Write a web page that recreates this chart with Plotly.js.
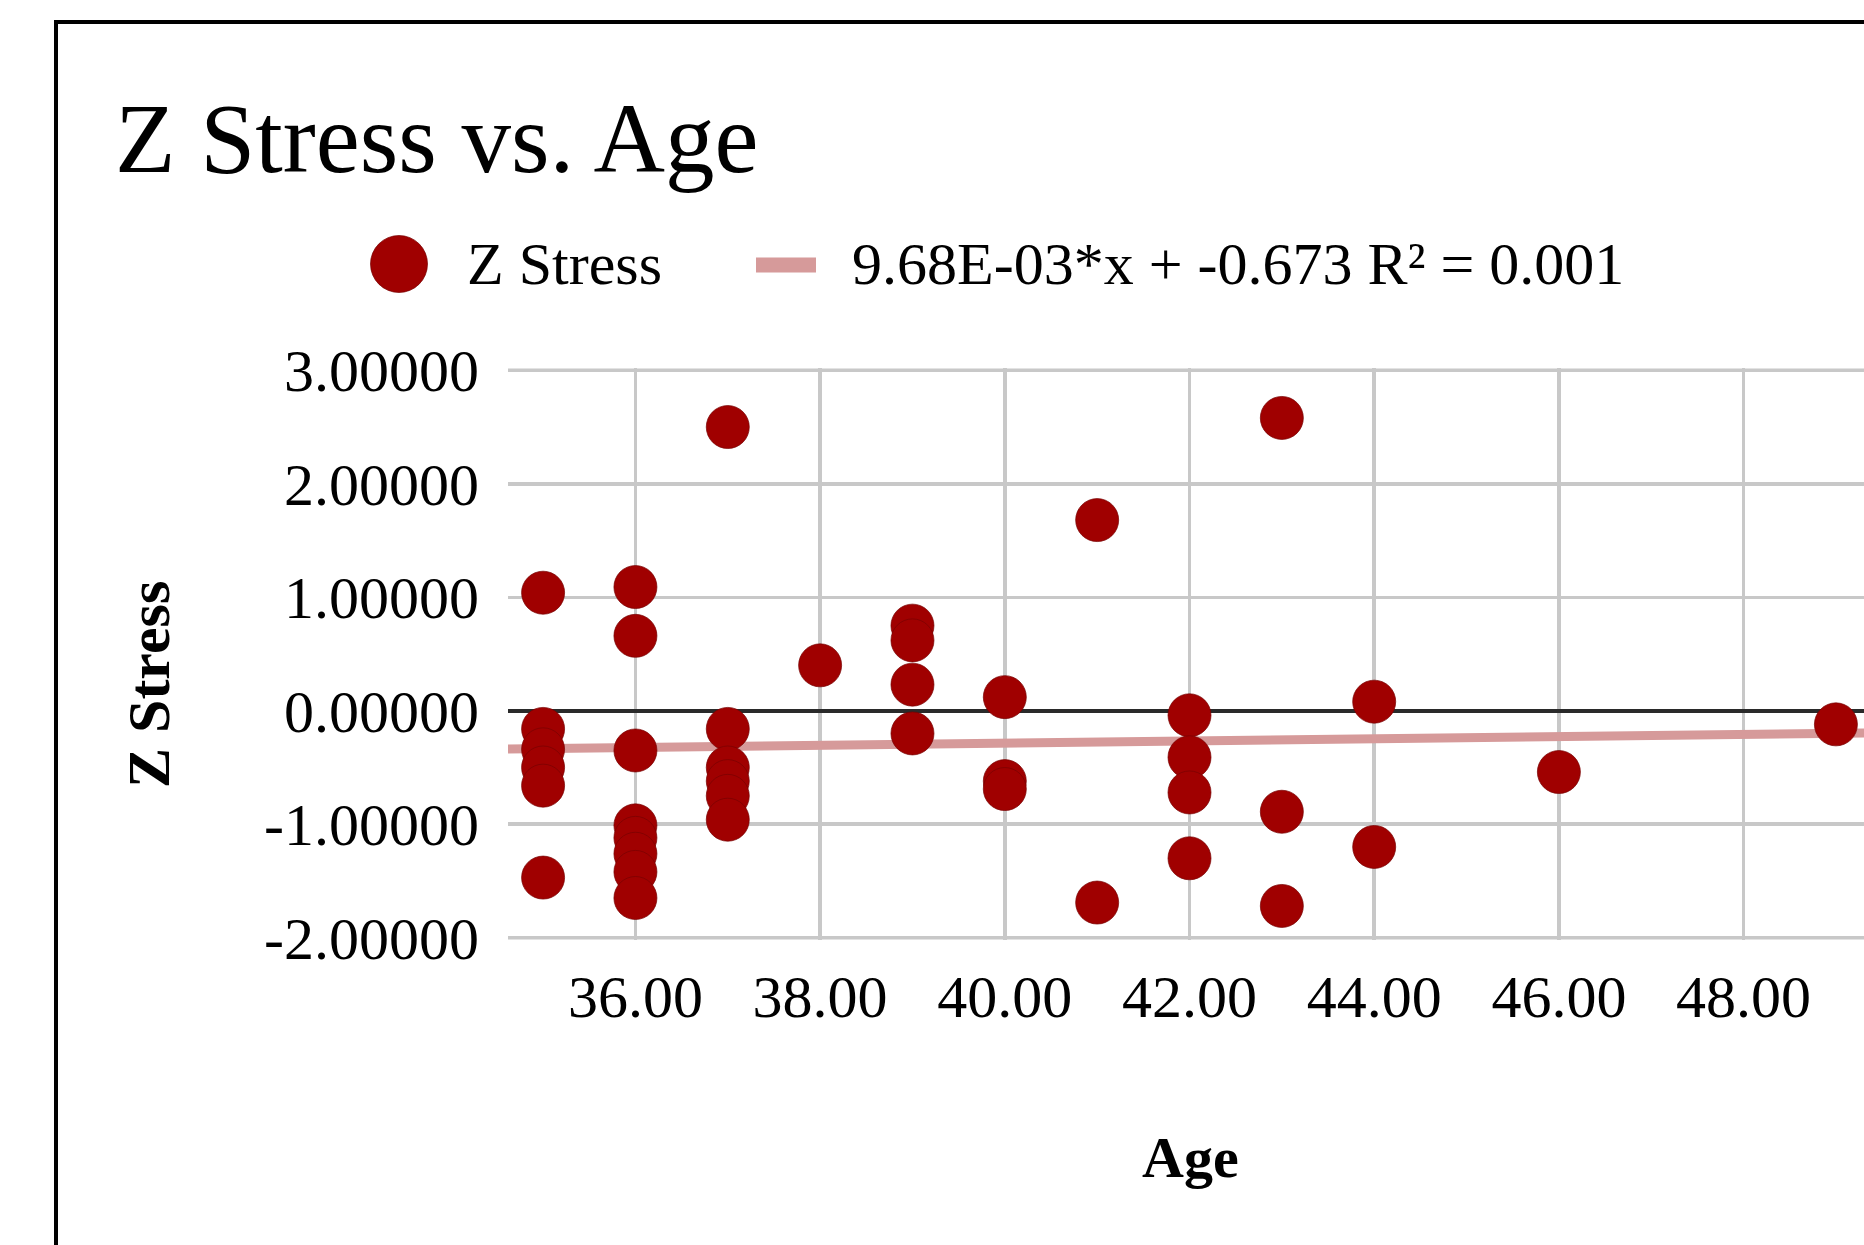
<!DOCTYPE html>
<html>
<head>
<meta charset="utf-8">
<script src="https://cdn.plot.ly/plotly-3.0.1.min.js"></script>
<style>
  html, body { margin: 0; padding: 0; overflow: hidden; background: #ffffff; }
  #chart { width: 1880px; height: 1245px; }
</style>
</head>
<body>
<div id="chart"></div>
<script>
// ---- Data ----
const ages = [
  35, 35, 35, 35, 35, 35,
  36, 36, 36, 36, 36, 36, 36, 36,
  37, 37, 37, 37, 37, 37,
  38,
  39, 39, 39, 39,
  40, 40, 40,
  41, 41,
  42, 42, 42, 42,
  43, 43, 43,
  44, 44,
  46,
  49
];
const zStress = [
  1.04, -0.16, -0.34, -0.50, -0.66, -1.47,
  1.09, 0.66, -0.35, -1.01, -1.12, -1.26, -1.42, -1.65,
  2.50, -0.16, -0.50, -0.62, -0.75, -0.96,
  0.40,
  0.75, 0.62, 0.23, -0.20,
  0.12, -0.62, -0.69,
  1.68, -1.69,
  -0.04, -0.41, -0.72, -1.30,
  2.58, -0.89, -1.72,
  0.08, -1.20,
  -0.54,
  -0.12
];
const seriesName = 'Z Stress';
const trendSlope = 0.00968;
const trendIntercept = -0.673;
const trendLabel = '9.68E-03*x + -0.673 R\u00B2 = 0.001';
const chartTitle = 'Z Stress vs. Age';
const xAxisTitle = 'Age';
const yAxisTitle = 'Z Stress';
const xTickVals = [36, 38, 40, 42, 44, 46, 48];
const xTickText = ['36.00', '38.00', '40.00', '42.00', '44.00', '46.00', '48.00'];
const yTickVals = [-2, -1, 0, 1, 2, 3];
const yTickText = ['-2.00000', '-1.00000', '0.00000', '1.00000', '2.00000', '3.00000'];
const xAxisRange = [34.62, 49.38];
const yAxisRange = [-2.02, 3.02];

// ---- Layout geometry (pixels) ----
const W = 1880, H = 1245;
const L = 508, R = W - 1871, T = 368, B = H - 940;
const plotW = W - L - R, plotH = H - T - B;
const px = v => (v - L) / plotW;          // page x pixel -> paper x
const py = v => (H - B - v) / plotH;      // page y pixel -> paper y

const FONT = 'Liberation Serif, "Times New Roman", Times, serif';
const markerColor = '#a00000';
const trendColor = '#d69a9a';
const gridColor = '#c8c8c8';
const gridWidth = 3.5;

// trendline across the full axis range, from the stated fit
const trendX = xAxisRange.slice();
const trendY = trendX.map(x => trendSlope * x + trendIntercept);

const traces = [
  {
    type: 'scatter', mode: 'lines', name: trendLabel,
    x: trendX, y: trendY,
    line: { color: trendColor, width: 9 },
    hoverinfo: 'skip'
  },
  {
    type: 'scatter', mode: 'markers', name: seriesName,
    x: ages, y: zStress,
    marker: { color: markerColor, size: 43, line: { color: 'rgba(120,0,0,0.7)', width: 1 } }
  }
];

// gridlines at the two outer y ticks (Plotly drops gridlines at the plot edges)
const edgeGridShapes = [yTickVals[0], yTickVals[yTickVals.length - 1]].map(v => ({
  type: 'line', xref: 'paper', yref: 'y', layer: 'below',
  x0: 0, x1: 1, y0: v, y1: v,
  line: { color: gridColor, width: gridWidth }
}));

const layout = {
  width: W, height: H, autosize: false,
  margin: { l: L, r: R, t: T, b: B, pad: 0 },
  paper_bgcolor: '#ffffff', plot_bgcolor: '#ffffff',
  showlegend: false,
  font: { family: FONT, color: '#000000' },
  title: {
    text: chartTitle,
    font: { family: FONT, size: 99, color: '#000000' },
    xref: 'container', yref: 'container',
    x: 115 / W, xanchor: 'left',
    y: 1 - 137 / H, yanchor: 'middle'
  },
  xaxis: {
    range: xAxisRange, autorange: false,
    tickmode: 'array', tickvals: xTickVals, ticktext: xTickText,
    tickfont: { family: FONT, size: 60, color: '#000000' },
    ticks: '', ticklabelstandoff: 16,
    showgrid: true, gridcolor: gridColor, gridwidth: gridWidth,
    zeroline: false, showline: false
  },
  yaxis: {
    range: yAxisRange, autorange: false,
    tickmode: 'array', tickvals: yTickVals, ticktext: yTickText,
    tickfont: { family: FONT, size: 60, color: '#000000' },
    ticks: '', ticklabelstandoff: 28,
    showgrid: true, gridcolor: gridColor, gridwidth: gridWidth,
    zeroline: true, zerolinecolor: '#2a2a2a', zerolinewidth: 3.5,
    showline: false
  },
  shapes: edgeGridShapes.concat([
    // outer frame (extends past the right and bottom of the picture)
    { type: 'rect', xref: 'paper', yref: 'paper', layer: 'below',
      x0: px(56), x1: px(2100), y0: py(1500), y1: py(22),
      line: { color: '#000000', width: 4 }, fillcolor: 'rgba(0,0,0,0)' },
    // legend: marker symbol
    { type: 'circle', xref: 'paper', yref: 'paper',
      xsizemode: 'pixel', ysizemode: 'pixel',
      xanchor: px(399), yanchor: py(264),
      x0: -28.5, x1: 28.5, y0: -28.5, y1: 28.5,
      fillcolor: markerColor, line: { color: 'rgba(120,0,0,0.7)', width: 1 } },
    // legend: trendline symbol
    { type: 'rect', xref: 'paper', yref: 'paper',
      xsizemode: 'pixel', ysizemode: 'pixel',
      xanchor: px(786), yanchor: py(265),
      x0: -30, x1: 30, y0: -7.5, y1: 7.5,
      fillcolor: trendColor, line: { width: 0 } }
  ]),
  annotations: [
    { text: seriesName, xref: 'paper', yref: 'paper',
      x: px(465), y: py(264), xanchor: 'left', yanchor: 'middle',
      showarrow: false, font: { family: FONT, size: 60, color: '#000000' } },
    { text: trendLabel, xref: 'paper', yref: 'paper',
      x: px(850), y: py(264), xanchor: 'left', yanchor: 'middle',
      showarrow: false, font: { family: FONT, size: 60, color: '#000000' } },
    { text: '<b>' + yAxisTitle + '</b>', xref: 'paper', yref: 'paper',
      x: px(149), y: py(685), xanchor: 'center', yanchor: 'middle', textangle: -90,
      showarrow: false, font: { family: FONT, size: 60, color: '#000000' } },
    { text: '<b>' + xAxisTitle + '</b>', xref: 'paper', yref: 'paper',
      x: px(1190), y: py(1157), xanchor: 'center', yanchor: 'middle',
      showarrow: false, font: { family: FONT, size: 58, color: '#000000' } }
  ]
};

Plotly.newPlot('chart', traces, layout, { displayModeBar: false, staticPlot: true });
</script>
</body>
</html>
